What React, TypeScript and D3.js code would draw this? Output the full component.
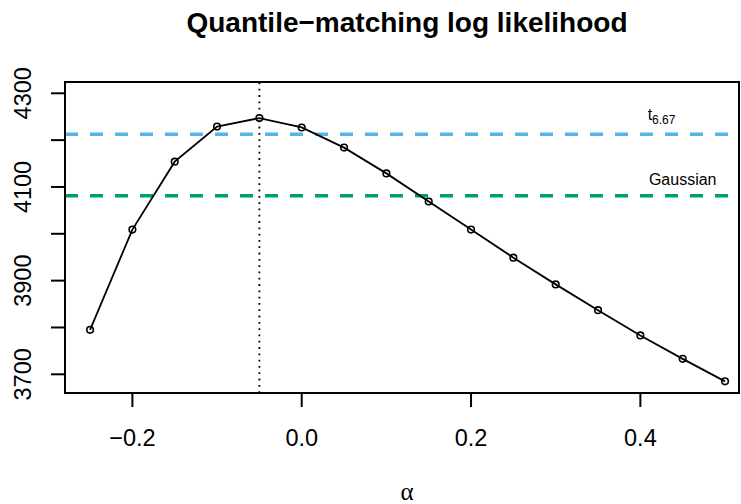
import * as d3 from "d3";
import React from "react";

// alpha grid and the quantile-matching log likelihood at each value
const alphas = [-0.25, -0.2, -0.15, -0.1, -0.05, 0.0, 0.05, 0.1, 0.15, 0.2, 0.25, 0.3, 0.35, 0.4, 0.45, 0.5];
const logLik = [3795, 4009, 4154, 4229, 4247, 4227, 4184, 4129, 4069, 4009, 3949, 3892, 3837, 3783, 3733, 3685];

// reference lines (fitted t and Gaussian log likelihoods)
const refNames = ["t", "Gaussian"];
const refValues = [4212.5, 4081];
const refColors = ["#56B4E9", "#009E73"];
const refLabelAlpha = [0.425, 0.45];

const alphaMax = -0.05;

const xTicks = [-0.2, 0.0, 0.2, 0.4];
const yTicks = [3700, 3800, 3900, 4000, 4100, 4200, 4300];
const yLabels = [3700, 3900, 4100, 4300];

const width = 741;
const height = 504;
const margin = { top: 82, right: 2, bottom: 111, left: 65 };
const font = "'Liberation Sans', Arial, Helvetica, sans-serif";
const centerX = 407;

const fmtX = (v: number) => {
  const s = d3.format(".1f")(Math.abs(v));
  return v < 0 ? "\u2212" + s : s;
};

export default function App() {
  const x = d3.scaleLinear()
    .domain([-0.2796, 0.5165])
    .range([margin.left, width - margin.right]);
  const y = d3.scaleLinear()
    .domain([3660.1, 4324.1])
    .range([height - margin.bottom, margin.top]);

  const line = d3.line<number>()
    .x((d, i) => x(alphas[i]))
    .y((d) => y(d));

  const [x0, x1] = x.range();
  const [yb, yt] = y.range();

  return (
    <svg width={width} height={height}
      style={{ position: "absolute", left: 0, top: 0, background: "white" }}
      fontFamily={font}>
      <text x={centerX} y={32} textAnchor="middle" fontSize={28} fontWeight="bold">
        Quantile{"\u2212"}matching log likelihood
      </text>

      {/* reference lines */}
      {refValues.map((v, i) => (
        <line key={refNames[i]} x1={x0} x2={x1} y1={y(v)} y2={y(v)}
          stroke={refColors[i]} strokeWidth={3.5} strokeDasharray="13,12" />
      ))}
      <text x={x(refLabelAlpha[0])} y={y(refValues[0]) - 14} textAnchor="middle" fontSize={16}>
        t<tspan fontSize={12} dy={4}>6.67</tspan>
      </text>
      <text x={x(refLabelAlpha[1])} y={y(refValues[1]) - 10.5} textAnchor="middle" fontSize={16}>
        Gaussian
      </text>

      {/* maximum */}
      <line x1={x(alphaMax)} x2={x(alphaMax)} y1={yb} y2={yt}
        stroke="black" strokeWidth={1.8} strokeDasharray="1.8,4.5" />

      <path d={line(logLik) ?? ""} fill="none" stroke="black" strokeWidth={1.8} />
      {logLik.map((v, i) => (
        <circle key={i} cx={x(alphas[i])} cy={y(v)} r={3.3}
          fill="none" stroke="black" strokeWidth={1.6} />
      ))}

      {/* box */}
      <rect x={x0} y={yt} width={x1 - x0} height={yb - yt}
        fill="none" stroke="black" strokeWidth={2} />

      {/* x axis */}
      {xTicks.map((t) => (
        <g key={t}>
          <line x1={x(t)} x2={x(t)} y1={yb} y2={yb + 14} stroke="black" strokeWidth={2} />
          <text x={x(t)} y={446} textAnchor="middle" fontSize={23.5}>{fmtX(t)}</text>
        </g>
      ))}
      <text x={centerX} y={500} textAnchor="middle" fontSize={25}
        fontFamily="'Liberation Serif', 'DejaVu Serif', serif">{"\u03B1"}</text>

      {/* y axis */}
      {yTicks.map((t) => (
        <line key={t} x1={x0 - 14} x2={x0} y1={y(t)} y2={y(t)} stroke="black" strokeWidth={2} />
      ))}
      {yLabels.map((t) => (
        <text key={t} transform={`translate(31,${y(t)}) rotate(-90)`} textAnchor="middle" fontSize={23.5}>
          {t}
        </text>
      ))}
    </svg>
  );
}
